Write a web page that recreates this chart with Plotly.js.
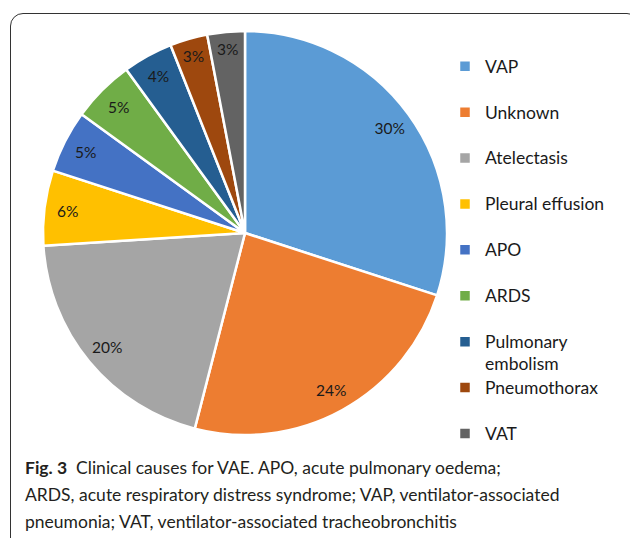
<!DOCTYPE html>
<html>
<head>
<meta charset="utf-8">
<script src="https://cdn.plot.ly/plotly-3.0.1.min.js"></script>
<style>
  html, body { margin: 0; padding: 0; background: #fff; }
  #wrap { position: relative; width: 630px; height: 538px; overflow: hidden; }
  #chart { position: absolute; left: 0; top: 0; width: 630px; height: 538px; }
  #frame { position: absolute; left: 10px; top: 13px; width: 630px; height: 540px;
           border: 1.3px solid #333; border-radius: 13px; box-sizing: border-box; pointer-events: none; }
</style>
</head>
<body>
<div id="wrap">
  <div id="chart"></div>
  <div id="frame"></div>
</div>
<script>
// Data
var categories = ['VAP', 'Unknown', 'Atelectasis', 'Pleural effusion', 'APO', 'ARDS',
                  'Pulmonary<br>embolism', 'Pneumothorax', 'VAT'];
var values = [30, 24, 20, 6, 5, 5, 4, 3, 3];
var colors = ['#5B9BD5', '#ED7D31', '#A5A5A5', '#FFC000', '#4472C4', '#70AD47',
              '#255E91', '#9E480E', '#636363'];
var captionLines = [
  '<b>Fig. 3</b>  Clinical causes for VAE. APO, acute pulmonary oedema;',
  'ARDS, acute respiratory distress syndrome; VAP, ventilator-associated',
  'pneumonia; VAT, ventilator-associated tracheobronchitis'
];

// legend labels: each entry occupies two lines (Excel-style slots)
var legendLabels = categories.map(function (c) {
  var lines = c.split('<br>');
  if (lines.length < 2) lines.push(' ');
  return lines.map(function (l) {
    return '<span style="font-size:17.5px">' + l + '</span>';
  }).join('<br>');
});

var W = 630, H = 538;
var pieDomain = { x: [43 / W, 447 / W], y: [(H - 435) / H, (H - 31) / H] };

var mainPie = {
  type: 'pie',
  labels: legendLabels,
  values: values,
  sort: false,
  direction: 'clockwise',
  rotation: 0,
  domain: pieDomain,
  marker: { colors: colors, line: { color: '#ffffff', width: 2.5 } },
  textinfo: 'none',
  hoverinfo: 'label+percent',
  showlegend: true
};

var labelRing = {
  type: 'pie',
  labels: legendLabels,
  values: values,
  sort: false,
  direction: 'clockwise',
  rotation: 0,
  domain: pieDomain,
  hole: 0.77,
  marker: { colors: colors.map(function () { return 'rgba(0,0,0,0)'; }), line: { width: 0 } },
  texttemplate: '%{percent:.0%}',
  textposition: 'inside',
  insidetextorientation: 'horizontal',
  insidetextfont: { family: 'Lato, sans-serif', size: 15.5, color: '#1a1a1a' },
  hoverinfo: 'skip',
  showlegend: false
};

var annotations = captionLines.map(function (line, i) {
  return {
    xref: 'paper', yref: 'paper',
    x: 23 / W, y: (H - (455 + i * 27)) / H,
    xanchor: 'left', yanchor: 'top',
    align: 'left',
    showarrow: false,
    text: line,
    font: { family: 'Lato, sans-serif', size: 17.5, color: '#231f20' }
  };
});

var layout = {
  width: W, height: H,
  margin: { l: 0, r: 0, t: 0, b: 0 },
  paper_bgcolor: 'rgba(0,0,0,0)',
  plot_bgcolor: 'rgba(0,0,0,0)',
  showlegend: true,
  legend: {
    x: 445 / W, xanchor: 'left',
    y: (H - 49) / H, yanchor: 'top',
    valign: 'top',
    traceorder: 'normal',
    font: { family: 'Lato, sans-serif', size: 16.5, color: '#1a1a1a' },
    bgcolor: 'rgba(0,0,0,0)'
  },
  annotations: annotations
};

Plotly.newPlot('chart', [mainPie, labelRing], layout, { displayModeBar: false, staticPlot: true });
</script>
</body>
</html>
